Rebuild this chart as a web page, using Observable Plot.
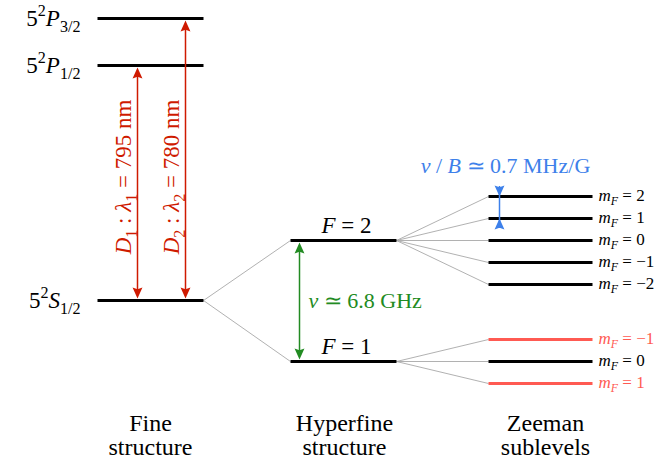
<!DOCTYPE html>
<html><head><meta charset="utf-8">
<script src="https://cdn.jsdelivr.net/npm/d3@7"></script>
<script src="https://cdn.jsdelivr.net/npm/@observablehq/plot@0.6"></script>
<style>
html,body{margin:0;padding:0;background:#fff;}
</style>
</head><body><div id="chart"></div>
<script>
// ---------- data (energies in arbitrary diagram units, upward) ----------
const fineLabels = ["5^{2}$P$_{3/2}", "5^{2}$P$_{1/2}", "5^{2}$S$_{1/2}"];
const fineEnergy = [443, 396, 161];
const hyperfineLabels = ["$F$ = 2", "$F$ = 1"];
const hyperfineEnergy = [221, 100];
const zeemanF2Labels = ["2", "1", "0", "−1", "−2"];
const zeemanF2Energy = [265, 243, 221, 199, 177];
const zeemanF1Labels = ["−1", "0", "1"];
const zeemanF1Energy = [122, 100, 78];
const zeemanF1Highlight = [true, false, true];
const columnTitles = ["Fine\nstructure", "Hyperfine\nstructure", "Zeeman\nsublevels"];
const transitionLabels = ["$D$_{1} : $λ$_{1} = 795 nm", "$D$_{2} : $λ$_{2} = 780 nm"];
const transitionUpper = [396, 443];
const transitionLower = [161, 161];
const hyperfineSplittingLabel = "$ν$ ≃ 6.8 GHz";
const zeemanSplittingLabel = "$ν$ / $B$ ≃ 0.7 MHz/G";

// ---------- layout & style ----------
const FONT = "Liberation Serif";
const layout = {
  fine: [97, 203], hf: [290, 396], zeeman: [488, 592],
  titleX: [150, 344, 545],
  transitionX: [137, 185],
  hfArrowX: 299, zeemanArrowX: 499,
  fineLabelX: 80, hfLabelX: 346, mLabelX: 598, nuLabelX: 308, zLabelX: 505
};
const C = {level: "#000", highlight: "#ff5a52", gray: "#a8a8a8",
           red: "#cf1a00", green: "#228b22", blue: "#3d80ea"};

// ---------- tables ----------
const levels = [
  ...fineEnergy.map(e => ({x1: layout.fine[0], x2: layout.fine[1], y: e, c: C.level})),
  ...hyperfineEnergy.map(e => ({x1: layout.hf[0], x2: layout.hf[1], y: e, c: C.level})),
  ...zeemanF2Energy.map(e => ({x1: layout.zeeman[0], x2: layout.zeeman[1], y: e, c: C.level})),
  ...zeemanF1Energy.map((e, i) => ({x1: layout.zeeman[0], x2: layout.zeeman[1], y: e, c: zeemanF1Highlight[i] ? C.highlight : C.level}))
];
const sEnergy = fineEnergy[2];
const connectors = [
  ...hyperfineEnergy.map(e => ({x1: layout.fine[1], y1: sEnergy, x2: layout.hf[0], y2: e})),
  ...zeemanF2Energy.map(e => ({x1: layout.hf[1], y1: hyperfineEnergy[0], x2: layout.zeeman[0], y2: e})),
  ...zeemanF1Energy.map(e => ({x1: layout.hf[1], y1: hyperfineEnergy[1], x2: layout.zeeman[0], y2: e}))
];
const arrows = [
  ...transitionLabels.map((l, i) => ({x: layout.transitionX[i], lo: transitionLower[i], hi: transitionUpper[i], c: C.red})),
  {x: layout.hfArrowX, lo: hyperfineEnergy[1], hi: hyperfineEnergy[0], c: C.green}
];
const zArrow = {x: layout.zeemanArrowX, lo: zeemanF2Energy[1], hi: zeemanF2Energy[0], c: C.blue};

const mLabels = [
  ...zeemanF2Labels.map((l, i) => ({t: `$m$_{$F$} = ${l}`, y: zeemanF2Energy[i], c: C.level})),
  ...zeemanF1Labels.map((l, i) => ({t: `$m$_{$F$} = ${l}`, y: zeemanF1Energy[i], c: zeemanF1Highlight[i] ? C.highlight : C.level}))
];

// arrowhead symbols with the tip at the origin
function head(dir) {
  return {draw(ctx, size) {
    const r = Math.sqrt(size / Math.PI), h = 2 * r, w = 1.8 * r;
    ctx.moveTo(0, 0);
    ctx.lineTo(w / 2, dir * h);
    ctx.lineTo(0, dir * h * 0.85);
    ctx.lineTo(-w / 2, dir * h);
    ctx.closePath();
  }};
}
const upHead = head(1), downHead = head(-1);

const chart = Plot.plot({
  width: 671, height: 461, margin: 0,
  x: {domain: [0, 671], axis: null},
  y: {domain: [0, 461], axis: null},
  color: {type: "identity"},
  marks: [
    Plot.link(connectors, {x1: "x1", y1: "y1", x2: "x2", y2: "y2", stroke: C.gray, strokeWidth: 0.9}),
    Plot.link(levels, {x1: "x1", x2: "x2", y1: "y", y2: "y", stroke: "c", strokeWidth: 3}),
    // double arrows (heads pointing outward)
    Plot.ruleX(arrows, {x: "x", y1: "hi", y2: "lo", stroke: "c", strokeWidth: 1.5, insetTop: 8, insetBottom: 8}),
    Plot.dot(arrows, {x: "x", y: "hi", fill: "c", stroke: null, symbol: upHead, r: 5.5, dy: 2}),
    Plot.dot(arrows, {x: "x", y: "lo", fill: "c", stroke: null, symbol: downHead, r: 5.5, dy: -2}),
    // Zeeman arrow (heads pointing inward)
    Plot.ruleX([zArrow], {x: "x", y1: "hi", y2: "lo", stroke: "c", strokeWidth: 1.5, insetTop: -10, insetBottom: -10}),
    Plot.dot([zArrow], {x: "x", y: "hi", fill: "c", stroke: null, symbol: downHead, r: 5.5}),
    Plot.dot([zArrow], {x: "x", y: "lo", fill: "c", stroke: null, symbol: upHead, r: 5.5}),
    // labels
    Plot.text(fineLabels, {x: layout.fineLabelX, y: (d, i) => fineEnergy[i], text: d => d, textAnchor: "end",
      fontSize: 23, fontFamily: FONT, fill: "#000"}),
    Plot.text(hyperfineLabels, {x: layout.hfLabelX, y: (d, i) => hyperfineEnergy[i], text: d => d, lineAnchor: "bottom", dy: -8,
      fontSize: 23, fontFamily: FONT, fill: "#000"}),
    Plot.text(mLabels, {x: layout.mLabelX, y: "y", text: "t", fill: "c", textAnchor: "start", fontSize: 17, fontFamily: FONT, dy: -1}),
    Plot.text(transitionLabels, {x: (d, i) => layout.transitionX[i], y: (transitionLower[0] + transitionUpper[0]) / 2, text: d => d,
      rotate: -90, dx: -14, dy: -6, fontSize: 23, fontFamily: FONT, fill: C.red}),
    Plot.text([hyperfineSplittingLabel], {x: layout.nuLabelX, y: (hyperfineEnergy[0] + hyperfineEnergy[1]) / 2, text: d => d,
      textAnchor: "start", fontSize: 22, fontFamily: FONT, fill: C.green}),
    Plot.text([zeemanSplittingLabel], {x: layout.zLabelX, y: zeemanF2Energy[0], text: d => d,
      lineAnchor: "bottom", dy: -24, fontSize: 22, fontFamily: FONT, fill: C.blue}),
    Plot.text(columnTitles, {x: (d, i) => layout.titleX[i], frameAnchor: "bottom", text: d => d,
      lineAnchor: "bottom", dy: -7, lineHeight: 1.0, fontSize: 24, fontFamily: FONT, fill: "#000"})
  ]
});

// rich text: $..$ italic, ^{..} superscript, _{..} subscript
function richify(root) {
  const NS = "http://www.w3.org/2000/svg";
  root.querySelectorAll("text").forEach(t => {
    const targets = t.querySelector("tspan") ? [...t.querySelectorAll("tspan")] : [t];
    targets.forEach(el => {
      const s = el.textContent;
      if (!/[\^_$]/.test(s)) return;
      while (el.firstChild) el.removeChild(el.firstChild);
      const re = /\^\{([^}]*)\}|_\{([^}]*)\}|\$([^$]*)\$|([^\^_$]+)/g;
      let m, cur = 0;
      while ((m = re.exec(s))) {
        let txt, scale = 1, off = 0, italic = false;
        if (m[1] !== undefined) { txt = m[1]; scale = 0.7; off = -0.42; }
        else if (m[2] !== undefined) { txt = m[2]; scale = 0.7; off = 0.25; }
        else if (m[3] !== undefined) { txt = m[3]; italic = true; }
        else txt = m[4];
        if (/^\$.*\$$/.test(txt)) { txt = txt.slice(1, -1); italic = true; }
        const ts = document.createElementNS(NS, "tspan");
        if (scale !== 1) ts.setAttribute("font-size", (scale * 100) + "%");
        if (italic) ts.setAttribute("font-style", "italic");
        if (off !== cur) ts.setAttribute("dy", ((off - cur) / scale).toFixed(3) + "em");
        cur = off;
        ts.textContent = txt;
        el.appendChild(ts);
      }
    });
  });
}
richify(chart);
document.getElementById("chart").append(chart);
</script></body></html>
